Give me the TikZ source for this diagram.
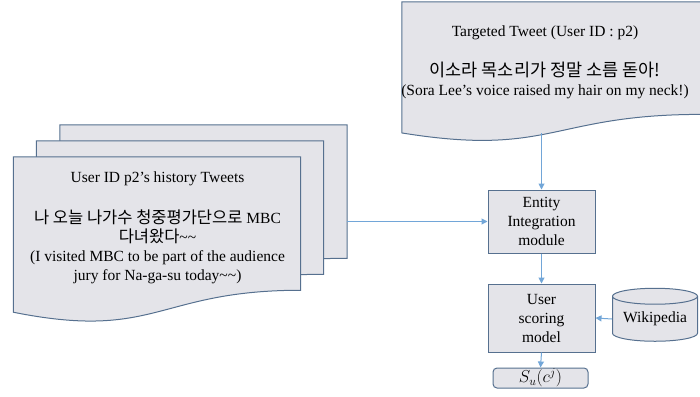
\documentclass[tikz,border=0pt]{standalone}
\usepackage{fontspec}
\setmainfont{Liberation Serif}
\newfontfamily\krfont{Noto Sans CJK KR}
\usetikzlibrary{calc,arrows.meta,shapes.geometric}

\definecolor{boxfill}{HTML}{E4E4E9}
\definecolor{boxline}{HTML}{56708F}
\definecolor{linkblue}{HTML}{72A6D8}

% document outline with a wavy bottom, drawn on a plain node
\newcommand{\docoutline}[1]{%
  \draw[boxline, fill=boxfill, line width=1pt] (#1.north west) -- (#1.north east)
    -- ($(#1.north east)!0.802!(#1.south east)$)
    .. controls ($(#1.north)!0.802!(#1.south)$) and ($(#1.north)!1.107!(#1.south)$)
    .. ($(#1.north west)!0.934!(#1.south west)$) -- cycle;}
\newcommand{\kr}[2][17.5]{{\krfont\fontsize{#1}{19}\selectfont #2}}

\begin{document}
\begin{tikzpicture}[x=1pt, y=-1pt, every node/.style={font=\fontsize{15.5}{19}\selectfont},
    link/.style={linkblue, line width=1pt, -{Triangle[length=6pt,width=6pt]}},
    modbox/.style={draw=boxline, fill=boxfill, line width=1pt, rectangle, align=center, inner sep=0pt}]
    \useasboundingbox (0,0) rectangle (700,396);

    % Tweets
    \node[minimum width=299pt, minimum height=140pt] (tweet) at (551.5,72) {};
    \docoutline{tweet}
    \node[minimum width=287pt, minimum height=166pt] (hist3) at (203.5,208) {};
    \docoutline{hist3}
    \node[minimum width=287pt, minimum height=166pt] (hist2) at (180,224) {};
    \docoutline{hist2}
    \node[minimum width=287pt, minimum height=166pt] (hist1) at (157,240) {};
    \docoutline{hist1}

    \node[align=center, anchor=north, inner sep=0pt] (tweettxt) at (545,26)
        {Targeted Tweet (User ID : p2)\\[21pt]
         \kr{이소라 목소리가 정말 소름 돋아!}\\
         (Sora Lee’s voice raised my hair on my neck!)};
    \node[align=center, anchor=north, inner sep=0pt] (histtxt) at (157.5,172)
        {User ID p2’s history Tweets\\[22pt]
         \kr[16.5]{나 오늘 나가수 청중평가단으로} MBC\\
         \kr[16.5]{다녀왔다}\textasciitilde\textasciitilde\\
         (I visited MBC to be part of the audience\\
         jury for Na-ga-su today\textasciitilde\textasciitilde)};

    % Modules
    \node[modbox, minimum width=107pt, minimum height=63pt] (entity) at (541.5,221.5)
        {Entity\\Integration\\module};
    \node[modbox, minimum width=107pt, minimum height=68pt] (scoring) at (541.5,318)
        {User\\scoring\\model};
    \node[modbox, rounded corners=4pt, minimum width=95pt, minimum height=20pt] (score) at (540.5,378)
        {\fontsize{17}{19}\selectfont $S_u(c^j)$};
    \node[draw=boxline, fill=boxfill, line width=1pt, cylinder, shape border rotate=90, aspect=0.25,
        minimum width=85pt, minimum height=53pt, inner sep=0pt] (wiki) at (655,319) {Wikipedia};

    % Links
    \coordinate (tweetend) at ($(tweet.north)!0.935!(tweet.south)$);
    \draw[link] (entity.north |- tweetend) -- (entity.north);
    \draw[link] (hist3.east |- entity.west) -- (entity.west);
    \draw[link] (entity.south) -- (scoring.north);
    \draw[link] (wiki.west) -- (scoring.east);
    \draw[link] (scoring.south) -- (score.north);
\end{tikzpicture}
\end{document}
